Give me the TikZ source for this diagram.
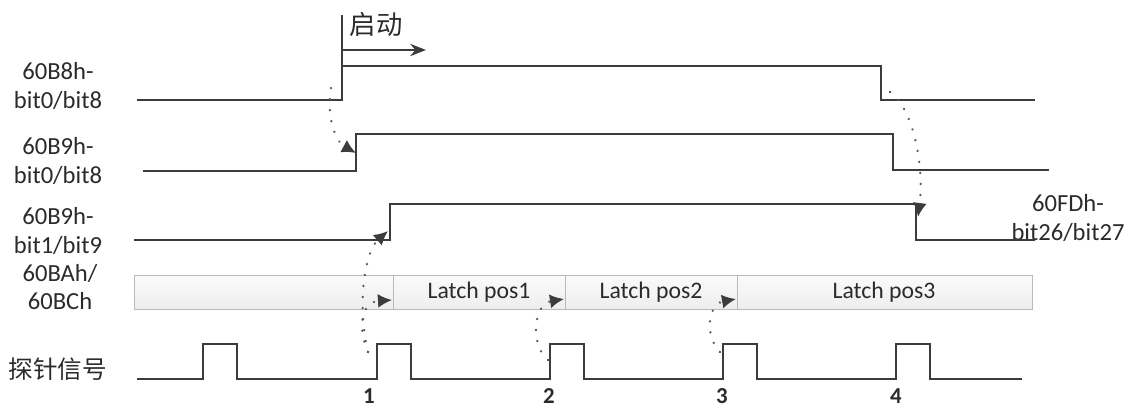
\documentclass[tikz,border=0pt]{standalone}
\usepackage{fontspec}
\setmainfont{Carlito}
\newfontfamily\cjk{Noto Sans CJK SC}
\usetikzlibrary{arrows.meta}
\definecolor{linegray}{HTML}{3C3C3C}
\definecolor{textgray}{HTML}{2B2B2B}
\tikzstyle{wave} = [line width=1.2pt, draw=linegray]
\tikzstyle{arrow} = [line width=1.2pt, draw=linegray, -{Stealth[length=9pt,width=7pt]}]
\tikzstyle{dotarrow} = [line width=1.4pt, draw=linegray!85, dash pattern=on 0.1pt off 6.2pt, line cap=round, -{Latex[length=8pt,width=8pt,color=linegray]}]
\tikzstyle{busbox} = [draw=gray!55, top color=gray!3, bottom color=gray!14]
\tikzset{
	siglabel/.style={font=\fontsize{14}{16}\selectfont, align=center, text=textgray},
	num/.style={font=\fontsize{13}{15}\selectfont\bfseries, text=textgray}
}

\begin{document}
\begin{tikzpicture}[x=0.02cm, y=-0.02cm]
	\useasboundingbox (0,0) rectangle (1129,407);
	
	% Signal names
	\node (n1) [siglabel] at (58,86) {60B8h-\\bit0/bit8};
	\node (n2) [siglabel] at (58,161) {60B9h-\\bit0/bit8};
	\node (n3) [siglabel] at (58,231) {60B9h-\\bit1/bit9};
	\node (n4) [siglabel] at (60,287) {60BAh/\\60BCh};
	\node (n5) [siglabel, font=\fontsize{14}{16}\selectfont\cjk] at (58,369) {探针信号};
	\node (n6) [siglabel] at (1068,218) {60FDh-\\bit26/bit27};
	
	% Start mark
	\coordinate (top) at (342,15);
	\coordinate (go) at (342,50);
	\coordinate (goend) at (426,50);
	\node (start) [siglabel, font=\fontsize{15}{17}\selectfont\cjk] at (376,24) {启动};
	
	% Waveforms
	\coordinate (a1) at (342,100);
	\coordinate (a2) at (342,66);
	\coordinate (a3) at (881,66);
	\coordinate (a4) at (881,100);
	\draw [wave] (137,100) -- (a1) -- (a2) -- (a3) -- (a4) -- (1035,100);
	\draw [wave] (a2) -- (top);
	\draw [arrow] (go) -- (goend);
	
	\coordinate (b1) at (356,171);
	\coordinate (b2) at (356,134);
	\coordinate (b3) at (893,134);
	\coordinate (b4) at (893,170);
	\draw [wave] (143,171) -- (b1) -- (b2) -- (b3) -- (b4) -- (1049,170);
	
	\coordinate (c1) at (390,240);
	\coordinate (c2) at (390,204);
	\coordinate (c3) at (916,204);
	\coordinate (c4) at (916,240);
	\draw [wave] (134,240) -- (c1) -- (c2) -- (c3) -- (c4) -- (1035,240);
	
	% Latch bus
	\draw [busbox] (134,275) rectangle (393,309);
	\draw [busbox] (393,275) rectangle (565,309);
	\draw [busbox] (565,275) rectangle (737,309);
	\draw [busbox] (737,275) rectangle (1032,309);
	\node (pos1) [siglabel, font=\fontsize{13.5}{16}\selectfont] at (479,292) {Latch pos1};
	\node (pos2) [siglabel, font=\fontsize{13.5}{16}\selectfont] at (651,292) {Latch pos2};
	\node (pos3) [siglabel, font=\fontsize{13.5}{16}\selectfont] at (884,292) {Latch pos3};
	
	% Probe pulses
	\draw [wave] (137,379) foreach \x in {203,377,550,723,896} { -- (\x,379) -- (\x,344) -- ({\x+34},344) -- ({\x+34},379) } -- (1022,379);
	\node (k1) [num] at (369,396) {1};
	\node (k2) [num] at (549,396) {2};
	\node (k3) [num] at (722,396) {3};
	\node (k4) [num] at (896,396) {4};
	
	% Dotted links
	\coordinate (s1) at (331,88);
	\coordinate (e1) at (356,153);
	\coordinate (s2) at (890,92);
	\coordinate (e2) at (918,217);
	\coordinate (s3) at (368,352);
	\coordinate (e3) at (388,231);
	\coordinate (e4) at (392,300);
	\coordinate (s5) at (548,360);
	\coordinate (e5) at (564,299);
	\coordinate (s6) at (720,352);
	\coordinate (e6) at (736,299);
	\draw [dotarrow] (s1) .. controls (326,118) and (336,142) .. (e1);
	\draw [dotarrow] (s2) .. controls (915,110) and (924,170) .. (e2);
	\draw [dotarrow] (s3) .. controls (356,300) and (366,250) .. (e3);
	\draw [dotarrow] (s3) .. controls (358,330) and (360,302) .. (e4);
	\draw [dotarrow] (s5) .. controls (530,345) and (533,304) .. (e5);
	\draw [dotarrow] (s6) .. controls (704,336) and (708,304) .. (e6);
	
\end{tikzpicture}
\end{document}
